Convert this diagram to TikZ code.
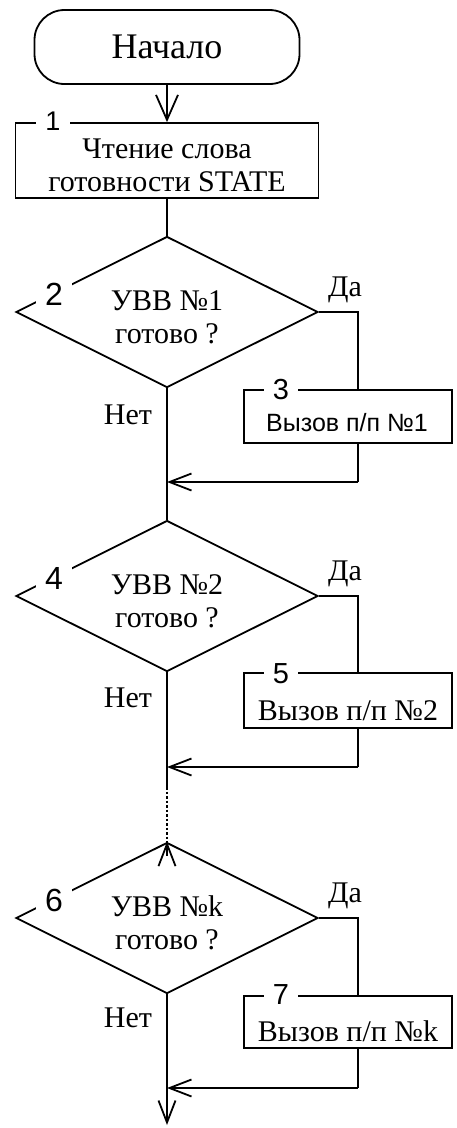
\documentclass[tikz,border=0pt]{standalone}
\usepackage{fontspec}
\setmainfont{Liberation Serif}
\newfontfamily\arialf{Liberation Sans}
\usetikzlibrary{shapes.geometric,arrows.meta}
\begin{document}
\begin{tikzpicture}[x=1pt,y=-1pt,line width=1.8pt,
  every node/.style={font=\fontsize{30}{33}\selectfont},
  term/.style={draw,rectangle,rounded corners=30pt,inner sep=0pt,minimum width=265pt,minimum height=74pt,font=\fontsize{36}{40}\selectfont},
  proc/.style={draw,rectangle,inner sep=0pt},
  sub/.style={proc,minimum width=208pt},
  dec/.style={draw,diamond,inner sep=0pt,minimum width=302pt,minimum height=151pt},
  dtext/.style={inner sep=0pt,align=center},
  btext/.style={inner sep=0pt,text height=20pt,text depth=0pt},
  num/.style={fill=white,inner xsep=9pt,inner ysep=0pt,font=\arialf\fontsize{32}{32}\selectfont},
  bnum/.style={num,font=\arialf\fontsize{29}{29}\selectfont},
  lbl/.style={inner sep=0pt},
  arr/.style={-{Straight Barb[length=22pt,width=17pt]}},
  dots/.style={dash pattern=on 2.5pt off 2pt,line width=2.6pt}]
\useasboundingbox (0,0) rectangle (457,1128);
% nodes
\node[term] (start) at (167,47) {Начало};
\node[proc,minimum width=303pt,minimum height=75pt] (b1) at (167,160.5) {};
\node[dtext] (t1) at (167,165) {Чтение слова\\готовности STATE};
\node[dec] (d2) at (167,312) {};
\node[dtext] (t2) at (167,317) {УВВ №1\\готово ?};
\node[sub,minimum height=53pt] (b3) at (348,416.5) {};
\node[btext,text height=17pt,font=\arialf\fontsize{25}{25}\selectfont] (t3) at (347,423) {Вызов п/п №1};
\node[dec] (d4) at (167,596) {};
\node[dtext] (t4) at (167,601) {УВВ №2\\готово ?};
\node[sub,minimum height=55pt] (b5) at (348,700.5) {};
\node[btext] (t5) at (348,710) {Вызов п/п №2};
\node[dec] (d6) at (167,918) {};
\node[dtext] (t6) at (167,923) {УВВ №k\\готово ?};
\node[sub,minimum height=52pt] (b7) at (348,1022) {};
\node[btext] (t7) at (348,1031) {Вызов п/п №k};
% coordinates
\coordinate (r2) at (358,312);
\coordinate (m1) at (167,482);
\coordinate (m1r) at (358,482);
\coordinate (r4) at (358,596);
\coordinate (m2) at (167,767);
\coordinate (m2r) at (358,767);
\coordinate (dd) at (167,787);
\coordinate (r6) at (358,918);
\coordinate (m3) at (167,1088);
\coordinate (m3r) at (358,1088);
\coordinate (fin) at (167,1125);
% connectors
\draw[-{Straight Barb[length=25pt,width=22pt]}] (start.south) -- (b1.north);
\draw (b1.south) -- (d2.north);
\draw (d2.east) -- (r2) -- (r2 |- b3.north);
\draw (r2 |- b3.south) -- (m1r);
\draw[arr] (m1r) -- (m1);
\draw (d2.south) -- (d4.north);
\draw (d4.east) -- (r4) -- (r4 |- b5.north);
\draw (r4 |- b5.south) -- (m2r);
\draw[arr] (m2r) -- (m2);
\draw (d4.south) -- (dd);
\draw[dots] (dd) -- ([yshift=-12pt]d6.north);
\draw[arr] ([yshift=-14pt]d6.north) -- (d6.north);
\draw (d6.east) -- (r6) -- (r6 |- b7.north);
\draw (r6 |- b7.south) -- (m3r);
\draw[arr] (m3r) -- (m3);
\draw[arr] (d6.south) -- (fin);
% labels
\node[lbl] (y2) at (345,290) {Да};
\node[lbl] (n2) at (128,415) {Нет};
\node[lbl] (y4) at (345,574) {Да};
\node[lbl] (n4) at (128,698) {Нет};
\node[lbl] (y6) at (345,896) {Да};
\node[lbl] (n6) at (128,1018) {Нет};
% numbers
\node[bnum,font=\arialf\fontsize{27}{27}\selectfont] (k1) at (53,121) {1};
\node[num] (k2) at (54,294) {2};
\node[bnum] (k3) at (281,390) {3};
\node[num] (k4) at (54,578) {4};
\node[bnum] (k5) at (281,674) {5};
\node[num] (k6) at (54,900) {6};
\node[bnum] (k7) at (281,995) {7};
\end{tikzpicture}
\end{document}
